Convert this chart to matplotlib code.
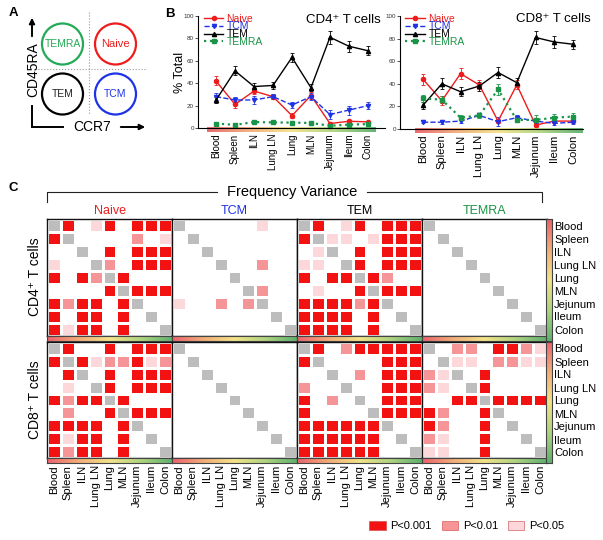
import numpy as np
import matplotlib
matplotlib.use('Agg')
import matplotlib.pyplot as plt
from matplotlib.colors import ListedColormap, LinearSegmentedColormap
from matplotlib.patches import Circle, Patch

plt.rcParams['font.family'] = ['Liberation Sans', 'DejaVu Sans']

W, H = 603, 540

tissues = ['Blood', 'Spleen', 'ILN', 'Lung LN', 'Lung', 'MLN', 'Jejunum', 'Ileum', 'Colon']
subsets = ['Naive', 'TCM', 'TEM', 'TEMRA']

# B: % total, mean and SEM
cd4_naive = [42, 21, 33, 28, 11, 29, 4, 6, 5.5]
cd4_naive_err = [4, 3, 3, 2, 2, 3, 1.5, 1.5, 1]
cd4_tcm = [28, 25, 25, 28, 20.5, 28, 12, 16, 20]
cd4_tcm_err = [3, 3, 4, 2, 3, 3, 4, 4, 3]
cd4_tem = [25, 51, 37, 38, 63, 36, 81, 73, 69]
cd4_tem_err = [3, 4, 3, 3, 4, 3, 6, 5, 4]
cd4_temra = [4, 2.8, 5.3, 5, 4.8, 4.5, 2, 3, 3.5]
cd4_temra_err = [1, 0.8, 1, 1, 1, 1, 0.8, 1, 1]

cd8_naive = [44, 25, 49, 39, 7, 39, 3.5, 7, 7]
cd8_naive_err = [5, 4, 5, 4, 2, 4, 1.5, 1.5, 1.5]
cd8_tcm = [6, 6, 7, 12, 6.5, 10, 7, 5, 6]
cd8_tcm_err = [1, 1.5, 1.5, 1.5, 4, 2, 2, 1.5, 2]
cd8_tem = [21, 40, 33, 38, 50, 41, 81, 77, 75]
cd8_tem_err = [3, 5, 4, 4, 5, 4, 6, 5, 4]
cd8_temra = [27, 26, 10, 12, 35, 8, 8, 10, 11]
cd8_temra_err = [3, 3, 2, 2, 5, 2, 4, 3, 3]

# C: 0 = n.s., 1 = P<0.05, 2 = P<0.01, 3 = P<0.001, 9 = same tissue
cd4_naive_p = [[9, 3, 0, 1, 3, 0, 3, 3, 3],
               [3, 9, 0, 0, 0, 0, 2, 0, 1],
               [0, 0, 9, 0, 3, 0, 3, 3, 3],
               [1, 0, 0, 9, 2, 0, 3, 3, 3],
               [3, 0, 3, 2, 9, 3, 0, 0, 0],
               [0, 0, 0, 0, 3, 9, 3, 3, 3],
               [3, 2, 3, 3, 0, 3, 9, 0, 0],
               [3, 0, 3, 3, 0, 3, 0, 9, 0],
               [3, 1, 3, 3, 0, 3, 0, 0, 9]]
cd4_tcm_p = [[9, 0, 0, 0, 0, 0, 1, 0, 0],
             [0, 9, 0, 0, 0, 0, 0, 0, 0],
             [0, 0, 9, 0, 0, 0, 0, 0, 0],
             [0, 0, 0, 9, 0, 0, 2, 0, 0],
             [0, 0, 0, 0, 9, 0, 0, 0, 0],
             [0, 0, 0, 0, 0, 9, 2, 0, 0],
             [1, 0, 0, 2, 0, 2, 9, 0, 0],
             [0, 0, 0, 0, 0, 0, 0, 9, 0],
             [0, 0, 0, 0, 0, 0, 0, 0, 9]]
cd4_tem_p = [[9, 3, 0, 1, 3, 0, 3, 3, 3],
             [3, 9, 1, 1, 0, 1, 3, 3, 3],
             [0, 1, 9, 0, 3, 0, 3, 3, 3],
             [1, 1, 0, 9, 3, 0, 3, 3, 3],
             [3, 0, 3, 3, 9, 3, 2, 0, 0],
             [0, 1, 0, 0, 3, 9, 3, 3, 3],
             [3, 3, 3, 3, 2, 3, 9, 0, 0],
             [3, 3, 3, 3, 0, 3, 0, 9, 0],
             [3, 3, 3, 3, 0, 3, 0, 0, 9]]
cd4_temra_p = [[9, 0, 0, 0, 0, 0, 0, 0, 0],
               [0, 9, 0, 0, 0, 0, 0, 0, 0],
               [0, 0, 9, 0, 0, 0, 0, 0, 0],
               [0, 0, 0, 9, 0, 0, 0, 0, 0],
               [0, 0, 0, 0, 9, 0, 0, 0, 0],
               [0, 0, 0, 0, 0, 9, 0, 0, 0],
               [0, 0, 0, 0, 0, 0, 9, 0, 0],
               [0, 0, 0, 0, 0, 0, 0, 9, 0],
               [0, 0, 0, 0, 0, 0, 0, 0, 9]]
cd8_naive_p = [[9, 3, 0, 0, 3, 0, 3, 3, 3],
               [3, 9, 3, 1, 2, 2, 3, 1, 2],
               [0, 3, 9, 0, 3, 0, 3, 3, 3],
               [0, 1, 0, 9, 3, 0, 3, 3, 3],
               [3, 2, 3, 3, 9, 3, 0, 0, 0],
               [0, 2, 0, 0, 3, 9, 3, 3, 3],
               [3, 3, 3, 3, 0, 3, 9, 0, 0],
               [3, 1, 3, 3, 0, 3, 0, 9, 0],
               [3, 2, 3, 3, 0, 3, 0, 0, 9]]
cd8_tcm_p = [[9, 0, 0, 0, 0, 0, 0, 0, 0],
             [0, 9, 0, 0, 0, 0, 0, 0, 0],
             [0, 0, 9, 0, 0, 0, 0, 0, 0],
             [0, 0, 0, 9, 0, 0, 0, 0, 0],
             [0, 0, 0, 0, 9, 0, 0, 0, 0],
             [0, 0, 0, 0, 0, 9, 0, 0, 0],
             [0, 0, 0, 0, 0, 0, 9, 0, 0],
             [0, 0, 0, 0, 0, 0, 0, 9, 0],
             [0, 0, 0, 0, 0, 0, 0, 0, 9]]
cd8_tem_p = [[9, 3, 0, 2, 3, 3, 3, 3, 3],
             [3, 9, 0, 0, 0, 0, 3, 3, 3],
             [0, 0, 9, 0, 2, 0, 3, 3, 3],
             [2, 0, 0, 9, 0, 0, 3, 3, 3],
             [3, 0, 2, 0, 9, 0, 3, 3, 3],
             [3, 0, 0, 0, 0, 9, 3, 3, 3],
             [3, 3, 3, 3, 3, 3, 9, 0, 0],
             [3, 3, 3, 3, 3, 3, 0, 9, 0],
             [3, 3, 3, 3, 3, 3, 0, 0, 9]]
cd8_temra_p = [[9, 0, 2, 2, 0, 3, 3, 2, 1],
               [0, 9, 1, 1, 0, 2, 2, 1, 1],
               [2, 1, 9, 0, 3, 0, 0, 0, 0],
               [2, 1, 0, 9, 3, 0, 0, 0, 0],
               [0, 0, 3, 3, 9, 3, 3, 3, 3],
               [3, 2, 0, 0, 3, 9, 0, 0, 0],
               [3, 2, 0, 0, 3, 0, 9, 0, 0],
               [2, 1, 0, 0, 3, 0, 0, 9, 0],
               [1, 1, 0, 0, 3, 0, 0, 0, 9]]

p_labels = ['P<0.001', 'P<0.01', 'P<0.05']

sub_colors = {'Naive': '#ee1c1c', 'TCM': '#1e32e6', 'TEM': 'black', 'TEMRA': '#1a9447'}
cell_colors = ['white', '#fcd8db', '#f59598', '#f21212', '#bdbdbd']
pcmap = ListedColormap(cell_colors)
tissue_cmap = LinearSegmentedColormap.from_list(
    'tissue', ['#e8505c', '#f0a46a', '#f2e07c', '#a6cf72', '#4aa85e'])

fig = plt.figure(figsize=(W / 100, H / 100), dpi=100)


def px_axes(x0, y0, x1, y1):
    return fig.add_axes([x0 / W, 1 - y1 / H, (x1 - x0) / W, (y1 - y0) / H])


# ---------- B: line plots ----------
def line_panel(box, data, title, title_xy, xlim, grad, tick_fs, ylabel):
    ax = px_axes(*box)
    styles = {'Naive': ('o', '-', 1.0), 'TCM': ('v', '--', 1.0),
              'TEM': ('^', '-', 1.0), 'TEMRA': ('s', ':', 1.6)}
    x = np.arange(len(tissues))
    handles = []
    for name, (vals, errs) in data.items():
        mk, ls, lw = styles[name]
        c = ax.errorbar(x, vals, yerr=errs, color=sub_colors[name], marker=mk, ms=3,
                        ls=ls, lw=lw, elinewidth=0.6, capsize=1.5, capthick=0.6,
                        label=name, clip_on=False)
        handles.append(c.lines[0])
    ax.imshow(np.linspace(0, 1, 256)[None, :], cmap=tissue_cmap, aspect='auto',
              extent=(grad[0], grad[1], -3.8, 0), clip_on=False, alpha=0.85, zorder=0)
    ax.set_xlim(*xlim)
    ax.set_ylim(0, 100)
    ax.set_yticks(range(0, 101, 20))
    ax.tick_params(axis='y', labelsize=4.5, length=2, width=0.6, pad=1, colors='#333')
    ax.set_xticks(x)
    ax.set_xticklabels(tissues, rotation=90, fontsize=tick_fs)
    ax.tick_params(axis='x', length=0, pad=4)
    for s in ['top', 'right']:
        ax.spines[s].set_visible(False)
    for s in ['left', 'bottom']:
        ax.spines[s].set_linewidth(0.8)
    ax.text(title_xy[0], title_xy[1], title, transform=ax.transAxes,
            ha='center', va='center', fontsize=9.5)
    leg = ax.legend(handles=handles, labels=list(data.keys()), loc='upper left',
                    bbox_to_anchor=(0.03, 1.02), frameon=False,
                    fontsize=7.5, labelspacing=-0.22, handlelength=1.9,
                    handletextpad=0.3, borderaxespad=0, borderpad=0)
    for t in leg.get_texts():
        t.set_color(sub_colors[t.get_text()])
    if ylabel:
        ax.set_ylabel('% Total', fontsize=9)
        ax.yaxis.set_label_coords(-0.064, 0.5)
    return ax


line_panel((198, 16, 385, 128),
           {'Naive': (cd4_naive, cd4_naive_err), 'TCM': (cd4_tcm, cd4_tcm_err),
            'TEM': (cd4_tem, cd4_tem_err), 'TEMRA': (cd4_temra, cd4_temra_err)},
           'CD4\u207a T cells', (0.775, 0.96), (-0.95, 8.9), (-0.45, 8.45), 7, True)
line_panel((400, 16, 583, 129),
           {'Naive': (cd8_naive, cd8_naive_err), 'TCM': (cd8_tcm, cd8_tcm_err),
            'TEM': (cd8_tem, cd8_tem_err), 'TEMRA': (cd8_temra, cd8_temra_err)},
           'CD8\u207a T cells', (0.836, 0.97), (-1.23, 8.53), (-0.43, 8.53), 8, False)

# ---------- C: significance matrices ----------
mats = [[cd4_naive_p, cd4_tcm_p, cd4_tem_p, cd4_temra_p],
        [cd8_naive_p, cd8_tcm_p, cd8_tem_p, cd8_temra_p]]
rows = [(219, 336, 341), (342, 458, 463)]
cell = 13.0

for r, (top, bot, gbot) in enumerate(rows):
    for k, name in enumerate(subsets):
        x0 = 47 + k * 125
        ax = px_axes(x0, top, x0 + 125, bot)
        m = np.array(mats[r][k])
        m = np.where(m == 9, 4, m)
        ax.pcolormesh(np.arange(10), np.arange(10), m, cmap=pcmap, vmin=-0.5,
                      vmax=4.5, edgecolors='white', linewidth=0.9)
        ax.set_xlim(0, 9)
        ax.set_ylim(9, 0)
        ax.set_xticks([])
        ax.set_yticks([])
        for s in ax.spines.values():
            s.set_linewidth(1.0)
            s.set_color('#111')
        if r == 0:
            ax.set_title(name, color=sub_colors[name], fontsize=9, pad=3.5)

        gx = px_axes(x0, bot, x0 + 125, gbot)
        gx.imshow(np.linspace(0, 1, 256)[None, :], cmap=tissue_cmap, aspect='auto',
                  extent=(0, 9, 0, 1), alpha=0.9)
        gx.set_xlim(0, 9)
        gx.set_yticks([])
        for s in gx.spines.values():
            s.set_linewidth(0.8)
            s.set_color('#444')
        if r == 1:
            gx.set_xticks(np.arange(9) + 0.5)
            gx.set_xticklabels(tissues, rotation=90, fontsize=8)
            gx.tick_params(axis='x', length=0, pad=1.5)
        else:
            gx.set_xticks([])

    vx = px_axes(546, top, 552, gbot)
    yb = (gbot - top) / cell
    vx.imshow(np.linspace(0, 1, 256)[:, None], cmap=tissue_cmap, aspect='auto',
              extent=(0, 1, yb, 0), alpha=0.9)
    vx.set_ylim(yb, 0)
    vx.set_xticks([])
    vx.set_yticks(np.arange(9) + 0.5)
    vx.set_yticklabels(tissues, fontsize=8)
    vx.yaxis.tick_right()
    vx.tick_params(axis='y', length=0, pad=1.5)
    for s in vx.spines.values():
        s.set_linewidth(0.8)
        s.set_color('#444')

fig.text(35 / W, 1 - 277 / H, 'CD4\u207a T cells', rotation=90, ha='center',
         va='center', fontsize=10)
fig.text(35 / W, 1 - 400 / H, 'CD8\u207a T cells', rotation=90, ha='center',
         va='center', fontsize=10)

handles = [Patch(facecolor=c, edgecolor='#d04040', linewidth=0.4, label=l)
           for c, l in zip([cell_colors[3], cell_colors[2], cell_colors[1]], p_labels)]
fig.legend(handles=handles, loc='center', bbox_to_anchor=(467 / W, 1 - 526 / H),
           ncol=3, frameon=False, fontsize=8, handlelength=1.45, handleheight=0.9,
           handletextpad=0.45, columnspacing=0.9)

# ---------- overlay: panel A, letters, bracket ----------
ov = fig.add_axes([0, 0, 1, 1])
ov.set_xlim(0, W)
ov.set_ylim(H, 0)
ov.axis('off')
ov.patch.set_alpha(0)

for (cx, cy, name, fs) in [(62.5, 44, 'TEMRA', 7.5), (115.5, 44, 'Naive', 8),
                           (62.5, 94, 'TEM', 7.5), (115.5, 94, 'TCM', 7.5)]:
    col = sub_colors[name] if name != 'TEMRA' else '#22aa55'
    ov.add_patch(Circle((cx, cy), 20.5, fill=False, lw=1.6, ec=col))
    ov.text(cx, cy, name, ha='center', va='center', fontsize=fs,
            color=col if name != 'TEM' else '#222')
ov.plot([89, 89], [12, 115], ls=':', color='#999', lw=0.8)
ov.plot([35, 147], [69, 69], ls=':', color='#999', lw=0.8)
ov.annotate('', xy=(32, 15), xytext=(32, 39),
            arrowprops=dict(arrowstyle='-|>', lw=1.4, color='black', mutation_scale=8))
ov.plot([32, 32, 63], [106, 127, 127], color='black', lw=1.4, solid_joinstyle='miter')
ov.annotate('', xy=(148, 127), xytext=(118, 127),
            arrowprops=dict(arrowstyle='-|>', lw=1.4, color='black', mutation_scale=8))
ov.text(33, 70, 'CD45RA', rotation=90, ha='center', va='center', fontsize=10)
ov.text(92, 127, 'CCR7', ha='center', va='center', fontsize=10)

ov.text(13, 13, 'A', ha='center', va='center', fontsize=9.5, fontweight='bold')
ov.text(170, 14, 'B', ha='center', va='center', fontsize=9.5, fontweight='bold')
ov.text(13, 188, 'C', ha='center', va='center', fontsize=9.5, fontweight='bold')

ov.plot([47, 47, 217], [202, 192, 192], color='#222', lw=0.8)
ov.plot([367, 542, 542], [192, 192, 202], color='#222', lw=0.8)
ov.text(292, 192, 'Frequency Variance', ha='center', va='center', fontsize=10.5)

fig.savefig('out.png', dpi=100)
